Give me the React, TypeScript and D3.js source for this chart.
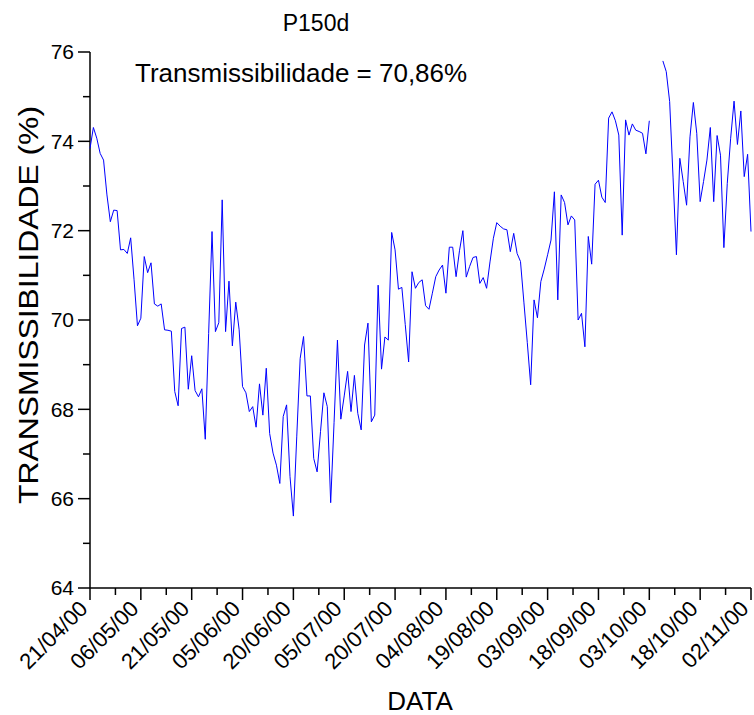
import React from "react";
import * as d3 from "d3";

const START_DATE = "2000-04-21";
const END_DATE = "2000-11-02";
const TICK_LABELS = ["21/04/00","06/05/00","21/05/00","05/06/00","20/06/00","05/07/00","20/07/00","04/08/00","19/08/00","03/09/00","18/09/00","03/10/00","18/10/00","02/11/00"];
const Y_TICKS = [64, 66, 68, 70, 72, 74, 76];
const TITLE = "P150d";
const SUBTITLE = "Transmissibilidade = 70,86%";

// day offsets from 21/04/00 and values (null = no measurement)
const DAYS: number[] = Array.from({ length: 196 }, (_, i) => i);
const VALUES: (number | null)[] = [
  73.84, 74.31, 74.07, 73.73, 73.58, 72.8, 72.2, 72.46, 72.45, 71.57,
  71.58, 71.49, 71.84, 70.9, 69.87, 70.04, 71.42, 71.06, 71.28, 70.36,
  70.31, 70.36, 69.78, 69.77, 69.75, 68.4, 68.08, 69.81, 69.84, 68.45,
  69.2, 68.42, 68.28, 68.46, 67.33, 69.7, 71.98, 69.74, 69.94, 72.69,
  69.74, 70.87, 69.42, 70.4, 69.78, 68.51, 68.37, 67.95, 68.06, 67.6,
  68.57, 67.87, 68.92, 67.46, 67.02, 66.75, 66.34, 67.84, 68.1, 66.5,
  65.61, 67.4, 69.14, 69.63, 68.3, 68.3, 66.9, 66.6, 67.5, 68.37,
  68.06, 65.91, 67.7, 69.55, 67.78, 68.3, 68.85, 67.95, 68.76, 67.91,
  67.54, 69.44, 69.93, 67.72, 67.87, 70.78, 68.9, 69.62, 69.55, 71.96,
  71.57, 70.69, 70.73, 69.9, 69.06, 71.08, 70.71, 70.84, 70.9, 70.32,
  70.24, 70.6, 70.97, 71.12, 71.23, 70.6, 71.63, 71.63, 70.97, 71.55,
  72.0, 70.96, 71.2, 71.4, 71.42, 70.82, 70.95, 70.71, 71.3, 71.83,
  72.18, 72.1, 72.04, 72.02, 71.53, 71.94, 71.49, 71.31, 70.4, 69.5,
  68.55, 70.45, 70.05, 70.86, 71.14, 71.46, 71.79, 72.87, 70.45, 72.8,
  72.63, 72.13, 72.33, 72.24, 70.0, 70.15, 69.4, 71.87, 71.25, 73.04,
  73.13, 72.75, 72.63, 74.52, 74.66, 74.46, 74.14, 71.9, 74.48, 74.14,
  74.39, 74.25, 74.22, 74.18, 73.72, 74.46, null, null, null, 75.8,
  75.56, 74.89, 73.2, 71.46, 73.62, 73.1, 72.57, 74.1, 74.87, 74.18,
  72.65, 73.1, 73.58, 74.31, 72.65, 74.13, 73.69, 71.62, 73.06, 74.07,
  74.9, 73.93, 74.68, 73.21, 73.71, 71.98,
];

const W = 754, H = 715;
const FONT = "'Liberation Sans', Arial, sans-serif";

export default function App() {
  const parse = d3.timeParse("%Y-%m-%d");
  const start = parse(START_DATE)!;
  const end = parse(END_DATE)!;
  const x = d3.scaleTime().domain([start, end]).range([90, 751]);
  const y = d3.scaleLinear().domain([64, 76]).range([588, 52]);

  const pts = DAYS.map((d, i) => ({ date: d3.timeDay.offset(start, d), v: VALUES[i] }));
  const line = d3
    .line<{ date: Date; v: number | null }>()
    .defined((p) => p.v !== null)
    .x((p) => x(p.date))
    .y((p) => y(p.v as number));

  const majorDates = TICK_LABELS.map((_, i) => d3.timeDay.offset(start, i * 15));
  const minorDates = TICK_LABELS.slice(0, -1).map((_, i) => d3.timeHour.offset(start, i * 360 + 180));
  const minorY = d3.range(65, 76, 2);

  return (
    <svg width={W} height={H} style={{ position: "absolute", left: 0, top: 0, background: "#fff" }} fontFamily={FONT}>
      <rect width={W} height={H} fill="#fff" />
      <text x={316} y={31} fontSize={23} textAnchor="middle">{TITLE}</text>
      <text x={135} y={82} fontSize={26}>{SUBTITLE}</text>

      {/* y axis */}
      <line x1={90} x2={90} y1={y(76)} y2={y(64)} stroke="#000" strokeWidth={1.5} />
      {Y_TICKS.map((t) => (
        <g key={t}>
          <line x1={78} x2={90} y1={y(t)} y2={y(t)} stroke="#000" strokeWidth={1.5} />
          <text x={74} y={y(t)} dy="0.35em" fontSize={21} textAnchor="end">{t}</text>
        </g>
      ))}
      {minorY.map((t) => (
        <line key={t} x1={83} x2={90} y1={y(t)} y2={y(t)} stroke="#000" strokeWidth={1.5} />
      ))}

      {/* x axis */}
      <line x1={90} x2={751} y1={588} y2={588} stroke="#000" strokeWidth={1.5} />
      {majorDates.map((d, i) => (
        <g key={i}>
          <line x1={x(d)} x2={x(d)} y1={588} y2={600} stroke="#000" strokeWidth={1.5} />
          <text
            transform={`translate(${x(d) - 1},${610}) rotate(-45)`}
            fontSize={22}
            textAnchor="end"
          >
            {TICK_LABELS[i]}
          </text>
        </g>
      ))}
      {minorDates.map((d, i) => (
        <line key={i} x1={x(d)} x2={x(d)} y1={588} y2={595} stroke="#000" strokeWidth={1.5} />
      ))}

      <path d={line(pts) || ""} fill="none" stroke="#0000ff" strokeWidth={1} />

      <text
        transform={`translate(38,305) rotate(-90)`}
        fontSize={28}
        textAnchor="middle"
        textLength={398}
        lengthAdjust="spacingAndGlyphs"
      >
        TRANSMISSIBILIDADE (%)
      </text>
      <text x={420} y={710} fontSize={26} textAnchor="middle">DATA</text>
    </svg>
  );
}
